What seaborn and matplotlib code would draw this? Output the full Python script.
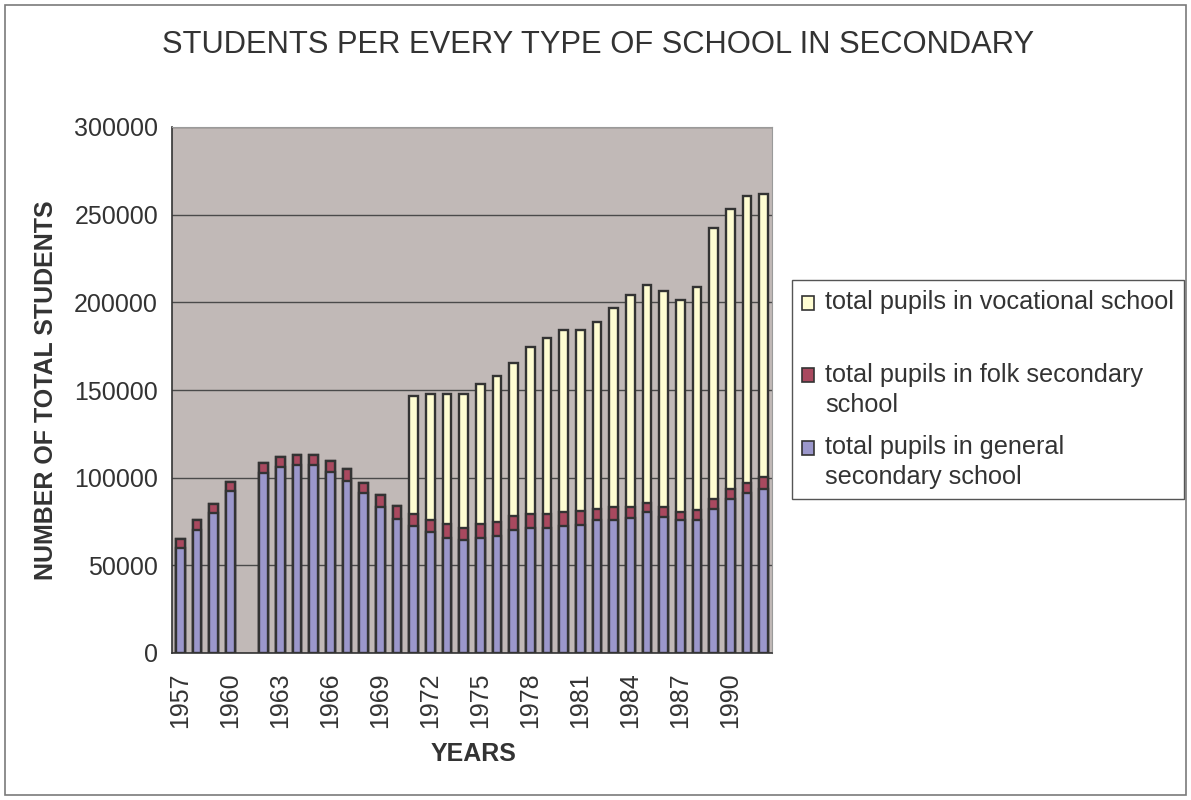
import numpy as np
import pandas as pd
import matplotlib
matplotlib.use("Agg")
import matplotlib.pyplot as plt
import seaborn as sns
from matplotlib.patches import Patch, Rectangle
from matplotlib.legend_handler import HandlerPatch

# ---------------- data ----------------
years = [str(y) for y in range(1957, 1993)]
general = [60000, 70000, 80000, 92500, np.nan, 102400, 106000, 107000, 107000, 103400,
           98200, 91400, 83300, 76600, 72200, 69000, 65600, 64400, 65600, 66700,
           70200, 71300, 71300, 72300, 73200, 75900, 75900, 76800, 80400, 77600,
           75900, 75900, 82300, 88000, 91400, 93700]
folk = [5000, 6100, 5000, 4800, np.nan, 6100, 5900, 6200, 6200, 6100,
        6900, 5800, 7000, 7200, 6800, 6900, 8000, 6900, 8000, 8000,
        7900, 8000, 8000, 7900, 7800, 6400, 7400, 6500, 5200, 5700,
        4500, 5700, 5700, 5700, 5700, 6800]
vocational = [0, 0, 0, 0, np.nan, 0, 0, 0, 0, 0,
              0, 0, 0, 0, 67400, 71600, 73900, 76200, 79600, 83100,
              87300, 95200, 100400, 104000, 103200, 106500, 113500, 121100, 124500, 123400,
              120700, 127400, 154400, 159700, 163400, 161100]
tick_years = [str(y) for y in range(1957, 1993, 3)]
labels = ["total pupils in vocational school\n",
          "total pupils in folk secondary\nschool",
          "total pupils in general\nsecondary school"]

df = pd.DataFrame({"year": years, "general": general, "folk": folk, "vocational": vocational})
df["lvl_folk"] = df["general"] + df["folk"]
df["lvl_total"] = df["lvl_folk"] + df["vocational"]

# ---------------- style ----------------
c_gen = "#9B97CB"
c_folk = "#A9495F"
c_voc = "#FFFDD2"
edge = "#333333"
txt = "#333333"
plot_bg = "#C1B9B7"

sns.set_style("white")
plt.rcParams["font.family"] = ["Liberation Sans", "DejaVu Sans"]

fig = plt.figure(figsize=(11.91, 8.0), dpi=100)
fig.patch.set_facecolor("white")
fig.add_artist(Rectangle((5 / 1191, 5 / 800), 1181 / 1191, 790 / 800, transform=fig.transFigure,
                         fill=False, edgecolor="#7a7a7a", linewidth=1.2))

ax = fig.add_axes([172 / 1191, 1 - 653 / 800, 600 / 1191, 526 / 800])
ax.set_facecolor(plot_bg)

bw = 0.52
common = dict(x="year", order=years, width=bw, edgecolor=edge, linewidth=1.7,
              errorbar=None, ax=ax, zorder=3)
sns.barplot(data=df, y="lvl_total", color=c_voc, saturation=1, **common)
sns.barplot(data=df, y="lvl_folk", color=c_folk, saturation=1, **common)
sns.barplot(data=df, y="general", color=c_gen, saturation=1, **common)

ax.set_xlim(-0.5, len(years) - 0.5)
ax.set_ylim(0, 300000)
ax.set_yticks(np.arange(0, 300001, 50000))
ax.set_yticklabels([str(v) for v in range(0, 300001, 50000)], fontsize=18, color=txt)
ax.yaxis.grid(True, color="#4a4a4a", linewidth=1.0, zorder=1)
ax.set_axisbelow(True)

pos = [years.index(y) for y in tick_years]
ax.set_xticks(pos)
ax.set_xticklabels(tick_years, rotation=90, fontsize=18, color=txt)
ax.tick_params(axis="x", which="major", length=0, pad=14)
ax.set_xticks(np.arange(-0.5, len(years), 1.0), minor=True)
ax.tick_params(axis="x", which="minor", length=7, width=1, color="#333333", direction="out")
ax.tick_params(axis="y", which="major", length=6, width=1, color="#333333", direction="out", pad=4)

for side in ["top", "right"]:
    ax.spines[side].set_visible(True)
    ax.spines[side].set_color("#9a9a9a")
    ax.spines[side].set_linewidth(0.8)
for side in ["left", "bottom"]:
    ax.spines[side].set_color("#333333")
    ax.spines[side].set_linewidth(1.2)

ax.set_ylabel("NUMBER OF TOTAL STUDENTS", fontsize=18, fontweight="bold", color=txt)
ax.yaxis.set_label_coords((58 - 172) / 600, 0.5)
ax.set_xlabel("YEARS", fontsize=18, fontweight="bold", color=txt)
ax.xaxis.set_label_coords((474 - 172) / 600, (653 - 742) / 526)

fig.text(598 / 1191, 1 - 45 / 800, "STUDENTS PER EVERY TYPE OF SCHOOL IN SECONDARY",
         ha="center", va="center", fontsize=22.2, color=txt)


class TopAlignedHandler(HandlerPatch):
    def create_artists(self, legend, orig_handle, xdescent, ydescent, width, height,
                       fontsize, trans):
        arts = super().create_artists(legend, orig_handle, xdescent, ydescent, width,
                                      height, fontsize, trans)
        for a in arts:
            a.set_y(a.get_y() + 0.59 * fontsize)
        return arts


handles = [Patch(facecolor=c_voc, edgecolor=edge, linewidth=1.2),
           Patch(facecolor=c_folk, edgecolor=edge, linewidth=1.2),
           Patch(facecolor=c_gen, edgecolor=edge, linewidth=1.2)]
h = TopAlignedHandler()
leg = fig.legend(handles, labels, loc="upper left",
                 bbox_to_anchor=(792 / 1191, 1 - 280 / 800),
                 fontsize=18.2, frameon=True, fancybox=False, framealpha=1,
                 edgecolor="#555555", handlelength=0.47, handleheight=0.47,
                 handletextpad=0.45, labelspacing=0.71, borderpad=0.4,
                 borderaxespad=0, labelcolor=txt,
                 handler_map={Patch: h})
for t in leg.get_texts():
    t.set_linespacing(1.34)
leg.get_frame().set_linewidth(1.0)

fig.savefig("out.png", dpi=100, facecolor="white")
